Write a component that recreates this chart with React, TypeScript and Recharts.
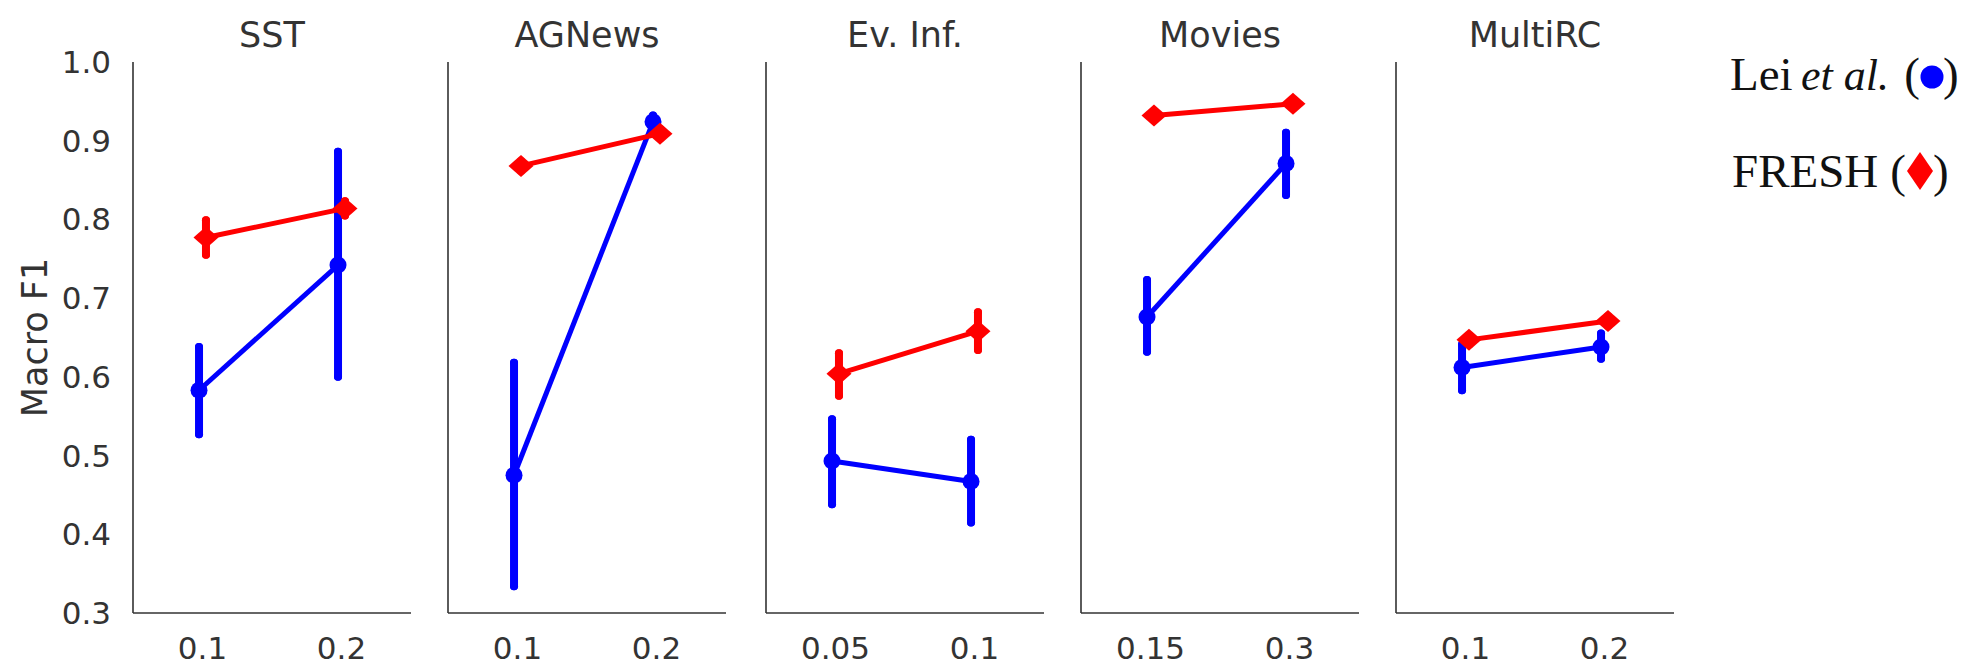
import React from 'react';
import { LineChart, Line, XAxis, YAxis, ErrorBar } from 'recharts';

// ---- data ----
const panelTitles = ['SST', 'AGNews', 'Ev. Inf.', 'Movies', 'MultiRC'];
const panelTickLabels = [
  ['0.1', '0.2'],
  ['0.1', '0.2'],
  ['0.05', '0.1'],
  ['0.15', '0.3'],
  ['0.1', '0.2'],
];

// Lei et al. (blue circles)
const leiMean = [
  [0.583, 0.742],
  [0.475, 0.924],
  [0.493, 0.467],
  [0.676, 0.871],
  [0.612, 0.638],
];
const leiLow = [
  [0.527, 0.6],
  [0.334, 0.915],
  [0.438, 0.415],
  [0.632, 0.831],
  [0.583, 0.623],
];
const leiHigh = [
  [0.638, 0.886],
  [0.618, 0.932],
  [0.546, 0.52],
  [0.723, 0.91],
  [0.641, 0.655],
];

// FRESH (red diamonds)
const freshMean = [
  [0.777, 0.814],
  [0.868, 0.909],
  [0.604, 0.658],
  [0.932, 0.947],
  [0.647, 0.671],
];
const freshLow = [
  [0.755, 0.805],
  [0.862, 0.903],
  [0.576, 0.634],
  [0.927, 0.942],
  [0.641, 0.665],
];
const freshHigh = [
  [0.799, 0.823],
  [0.874, 0.915],
  [0.63, 0.682],
  [0.937, 0.952],
  [0.653, 0.677],
];

const yTicks = [0.3, 0.4, 0.5, 0.6, 0.7, 0.8, 0.9, 1.0];
const yLabel = 'Macro F1';
const legendLei = 'Lei';
const legendLeiItalic = 'et al.';
const legendFresh = 'FRESH';

// ---- style / layout ----
const BLUE = '#0000ff';
const RED = '#ff0000';
const AXIS = '#333333';
const TEXT = '#333333';
const FONT = "'DejaVu Sans', sans-serif";
const SERIF = "'Liberation Serif', 'Times New Roman', serif";
const PLOT_LEFTS = [133, 448, 766, 1081, 1396];
const PLOT_W = 278;
const DODGE = 0.025;
const H = 671;

const buildRows = (mean: number[], low: number[], high: number[], off: number) =>
  mean.map((m, i) => ({ x: i + off, y: m, err: [m - low[i], high[i] - m] }));

const Diamond = (props: any) => {
  const { cx, cy, index } = props;
  if (cx == null || cy == null) return <g key={`d-${index}`} />;
  return (
    <path
      key={`d-${index}`}
      d={`M${cx},${cy - 11} L${cx + 12.5},${cy} L${cx},${cy + 11} L${cx - 12.5},${cy} Z`}
      fill={RED}
    />
  );
};

const YLabelContent = (props: any) => {
  const vb = props.viewBox || { x: 0, y: 62, width: 133, height: 551 };
  const x = vb.x + 47;
  const y = vb.y + vb.height / 2;
  return (
    <text
      x={x}
      y={y}
      transform={`rotate(-90, ${x}, ${y})`}
      textAnchor="middle"
      fontFamily={FONT}
      fontSize={35}
      fill={TEXT}
    >
      {yLabel}
    </text>
  );
};

function Panel({ p }: { p: number }) {
  const first = p === 0;
  const yw = first ? 133 : 10;
  const W = yw + PLOT_W + 12;
  const blueRows = buildRows(leiMean[p], leiLow[p], leiHigh[p], -DODGE);
  const redRows = buildRows(freshMean[p], freshLow[p], freshHigh[p], DODGE);
  return (
    <div style={{ position: 'absolute', left: PLOT_LEFTS[p] - yw, top: 0 }}>
      <LineChart width={W} height={H} margin={{ top: 62, right: 12, bottom: 8, left: 0 }}>
        <XAxis
          type="number"
          dataKey="x"
          domain={[-0.5, 1.5]}
          ticks={[0, 1]}
          interval={0}
          allowDataOverflow
          tickFormatter={(v: number) => panelTickLabels[p][Math.round(v)]}
          tickLine={false}
          tickSize={0}
          tickMargin={24}
          height={50}
          axisLine={{ stroke: AXIS, strokeWidth: 1.6 }}
          tick={{ fontFamily: FONT, fontSize: 31, fill: TEXT }}
        />
        <YAxis
          type="number"
          domain={[0.3, 1.0]}
          ticks={yTicks}
          interval={0}
          allowDataOverflow
          width={yw}
          tickLine={false}
          tickSize={0}
          tickMargin={22}
          tickFormatter={(v: number) => v.toFixed(1)}
          tick={first ? { fontFamily: FONT, fontSize: 31, fill: TEXT } : false}
          axisLine={{ stroke: AXIS, strokeWidth: 1.6 }}
          label={first ? (lp: any) => <YLabelContent {...lp} /> : undefined}
        />
        <Line
          data={blueRows}
          dataKey="y"
          stroke={BLUE}
          strokeWidth={5}
          dot={{ r: 8.5, fill: BLUE, stroke: BLUE, strokeWidth: 0 }}
          activeDot={false}
          isAnimationActive={false}
        >
          <ErrorBar dataKey="err" width={0} strokeWidth={8} stroke={BLUE} direction="y" strokeLinecap="round" />
        </Line>
        <Line
          data={redRows}
          dataKey="y"
          stroke={RED}
          strokeWidth={5}
          dot={(dp: any) => <Diamond {...dp} />}
          activeDot={false}
          isAnimationActive={false}
        >
          <ErrorBar dataKey="err" width={0} strokeWidth={8} stroke={RED} direction="y" strokeLinecap="round" />
        </Line>
      </LineChart>
    </div>
  );
}

export default function App() {
  return (
    <div style={{ position: 'absolute', left: 0, top: 0, width: 1972, height: H, background: '#fff' }}>
      {panelTitles.map((_, p) => (
        <Panel key={p} p={p} />
      ))}
      <svg
        width={1972}
        height={H}
        style={{ position: 'absolute', left: 0, top: 0, pointerEvents: 'none' }}
      >
        {panelTitles.map((t, p) => (
          <text
            key={t}
            x={PLOT_LEFTS[p] + PLOT_W / 2}
            y={47}
            textAnchor="middle"
            fontFamily={FONT}
            fontSize={35}
            fill={TEXT}
          >
            {t}
          </text>
        ))}
        <g fontFamily={SERIF} fontSize={47} fill="#111">
          <text x={1730} y={90}>{legendLei}</text>
          <text x={1801} y={90} fontStyle="italic" fontSize={44}>{legendLeiItalic}</text>
          <text x={1920} y={90} textAnchor="end">(</text>
          <circle cx={1932} cy={77} r={11.5} fill={BLUE} />
          <text x={1943} y={90}>)</text>
          <text x={1732} y={187}>{legendFresh}</text>
          <text x={1906} y={187} textAnchor="end">(</text>
          <path d="M1920,152 L1933,171 L1920,190 L1907,171 Z" fill={RED} />
          <text x={1933} y={187}>)</text>
        </g>
      </svg>
    </div>
  );
}
